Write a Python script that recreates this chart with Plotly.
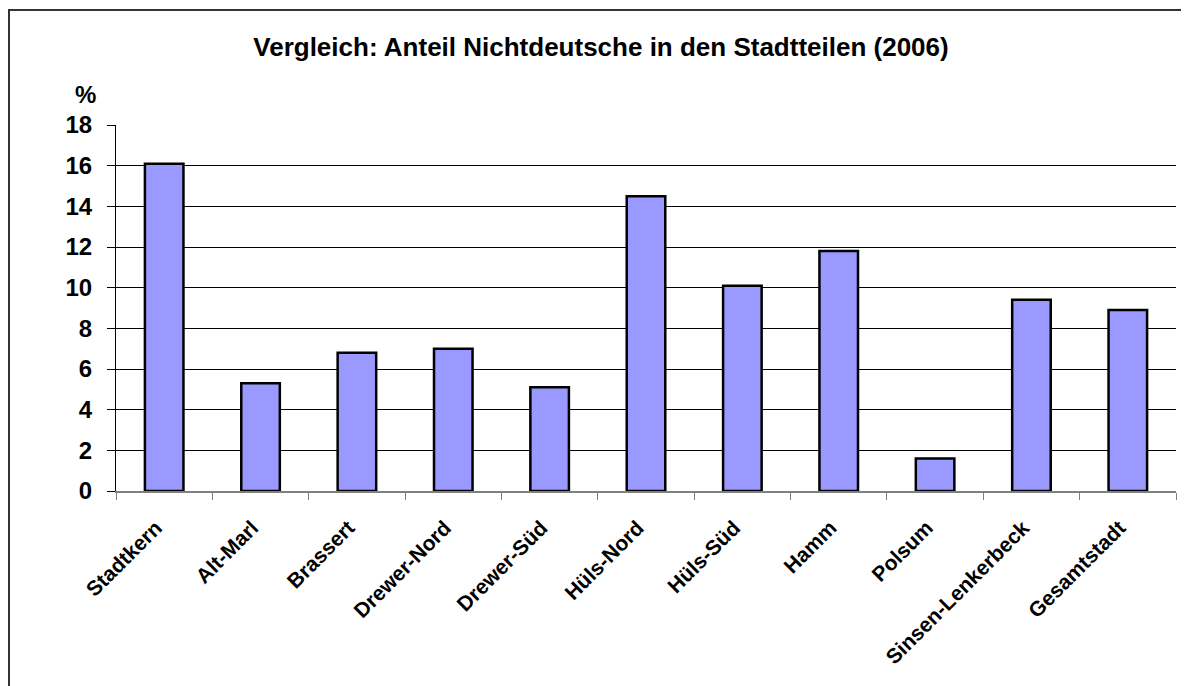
import plotly.graph_objects as go

categories = ["Stadtkern", "Alt-Marl", "Brassert", "Drewer-Nord", "Drewer-Süd",
              "Hüls-Nord", "Hüls-Süd", "Hamm", "Polsum", "Sinsen-Lenkerbeck", "Gesamtstadt"]
values = [16.1, 5.3, 6.8, 7.0, 5.1, 14.5, 10.1, 11.8, 1.6, 9.4, 8.9]
y_ticks = [0, 2, 4, 6, 8, 10, 12, 14, 16, 18]

# page body has an 8px default margin; work in figure pixel coords
OFF = 8
W, H = 1189 - OFF, 686 - OFF
L, R, T, B = 116 - OFF, 1176 - OFF, 125 - OFF, 491 - OFF

def px_x(px):  # screen px -> paper
    return (px - OFF - L) / (R - L)

def px_y(py):
    return (B - (py - OFF)) / (B - T)

fig = go.Figure(go.Bar(
    x=categories, y=values,
    marker=dict(color="#9999FF", line=dict(color="black", width=2.5)),
    width=0.4,
))

font = "Liberation Sans, Arial, sans-serif"

fig.update_layout(
    width=W, height=H,
    margin=dict(l=L, r=W - R, t=T, b=H - B),
    paper_bgcolor="white", plot_bgcolor="white",
    showlegend=False,
    font=dict(family=font, color="black"),
    title=dict(text="<b>Vergleich: Anteil Nichtdeutsche in den Stadtteilen (2006)</b>",
               x=(601 - OFF) / W, xanchor="center", y=1 - (47 - OFF) / H, yanchor="middle",
               font=dict(size=26, family=font, color="black")),
    xaxis=dict(
        tickangle=-45, tickson="boundaries", ticks="outside", ticklen=7,
        tickcolor="#808080", tickwidth=1,
        showline=True, linecolor="#808080", linewidth=2,
        showgrid=False, zeroline=False,
        tickfont=dict(size=21, family=font, color="black"),
        ticklabelstandoff=6,
        range=[-0.5, 10.5],
    ),
    yaxis=dict(
        range=[0, 18], tickvals=y_ticks, ticktext=[f"<b>{v}</b>" for v in y_ticks],
        ticks="outside", ticklen=8, tickcolor="black", tickwidth=1,
        showline=True, linecolor="black", linewidth=1,
        showgrid=True, gridcolor="black", gridwidth=1,
        zeroline=False,
        ticklabelstandoff=10,
        tickfont=dict(size=24, family=font, color="black"),
    ),
    shapes=[
        dict(type="rect", xref="paper", yref="paper",
             x0=px_x(9), x1=px_x(1210), y0=px_y(720), y1=px_y(10),
             line=dict(color="#333333", width=2), fillcolor="rgba(0,0,0,0)", layer="below"),
    ],
    annotations=[
        dict(text="<b>%</b>", xref="paper", yref="paper", x=px_x(85), y=px_y(94),
             xanchor="center", yanchor="middle", showarrow=False,
             font=dict(size=24, family=font, color="black")),
    ],
)

fig.update_xaxes(tickmode="array", tickvals=categories,
                 ticktext=[f"<b>{c}</b>\u00a0\u00a0" for c in categories])

fig.write_html("out.html")
